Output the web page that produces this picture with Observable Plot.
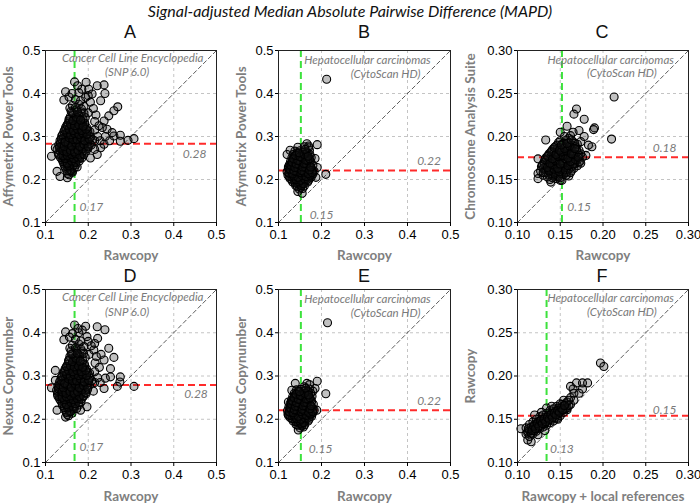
<!DOCTYPE html>
<html>
<head>
<meta charset="utf-8">
<script src="https://cdn.jsdelivr.net/npm/d3@7"></script>
<script src="https://cdn.jsdelivr.net/npm/@observablehq/plot@0.6"></script>
<style>
  body { margin: 0; background: #fff; }
  #fig { position: relative; width: 700px; height: 504px; overflow: hidden; font-family: Lato, sans-serif; }
  .ttl { position: absolute; left: 0; top: 1px; width: 700px; text-align: center; font-style: italic; font-size: 16px; color: #111; }
  .let { position: absolute; width: 60px; text-align: center; font-family: "Liberation Sans", sans-serif; font-size: 18px; color: #111; }
  .pan { position: absolute; }
</style>
</head>
<body>
<div id="fig">
  <div class="ttl">Signal-adjusted Median Absolute Pairwise Difference (MAPD)</div>
</div>
<script>
const ticksWide = [0.1, 0.2, 0.3, 0.4, 0.5];
const ticksNarrow = [0.10, 0.15, 0.20, 0.25, 0.30];

const letters = ["A", "B", "C", "D", "E", "F"];
const yLabels = ["Affymetrix Power Tools", "Affymetrix Power Tools", "Chromosome Analysis Suite",
                 "Nexus Copynumber", "Nexus Copynumber", "Rawcopy"];
const xLabels = ["Rawcopy", "Rawcopy", "Rawcopy", "Rawcopy", "Rawcopy", "Rawcopy + local references"];

// medians: [x (green), y (red)]
const medians = [[0.168, 0.283], [0.152, 0.221], [0.152, 0.176],
                 [0.168, 0.279], [0.152, 0.221], [0.134, 0.154]];
const medianText = [["0.17", "0.28"], ["0.15", "0.22"], ["0.15", "0.18"],
                    ["0.17", "0.28"], ["0.15", "0.22"], ["0.13", "0.15"]];
// label positions [greenX, greenY, redX, redY]
const medianPos = [[0.207, 0.135, 0.449, 0.259], [0.2, 0.117, 0.45, 0.242], [0.172, 0.118, 0.272, 0.186],
                   [0.207, 0.135, 0.452, 0.258], [0.198, 0.131, 0.45, 0.242], [0.152, 0.116, 0.272, 0.161]];
const studies = [["Cancer Cell Line Encyclopedia", "(SNP 6.0)"], ["Hepatocellular carcinomas", "(CytoScan HD)"],
                 ["Hepatocellular carcinomas", "(CytoScan HD)"], ["Cancer Cell Line Encyclopedia", "(SNP 6.0)"],
                 ["Hepatocellular carcinomas", "(CytoScan HD)"], ["Hepatocellular carcinomas", "(CytoScan HD)"]];
// [line1 x, line1 y, line2 x, line2 y]
const studyPos = [[0.304, 0.481, 0.291, 0.449], [0.307, 0.477, 0.349, 0.444], [0.209, 0.289, 0.222, 0.274],
                  [0.304, 0.481, 0.291, 0.448], [0.307, 0.478, 0.349, 0.444], [0.209, 0.29, 0.222, 0.274]];

const ptsA = [
  [0.168,0.427],[0.195,0.426],[0.221,0.418],[0.237,0.42],[0.239,0.4],[0.147,0.404],[0.143,0.385],[0.201,0.41],
  [0.209,0.399],[0.194,0.391],[0.229,0.383],[0.269,0.369],[0.26,0.36],[0.248,0.348],[0.237,0.336],[0.233,0.321],
  [0.244,0.317],[0.256,0.309],[0.26,0.301],[0.275,0.303],[0.275,0.289],[0.293,0.291],[0.307,0.295],[0.237,0.282],
  [0.229,0.274],[0.221,0.258],[0.205,0.25],[0.114,0.254],[0.123,0.274],[0.127,0.219],[0.134,0.207],[0.151,0.204],
  [0.162,0.219],
  [0.155,0.392],[0.162,0.4],[0.178,0.402],[0.185,0.41],[0.175,0.418],[0.2,0.395],[0.205,0.38],[0.212,0.365],
  [0.218,0.35],[0.2,0.355],[0.215,0.335],[0.225,0.325],[0.215,0.315],[0.222,0.3],[0.215,0.29],[0.228,0.29],
  [0.24,0.3],[0.25,0.29],[0.215,0.27],
  [0.152,0.214],[0.163,0.217],[0.147,0.226],[0.158,0.223],[0.168,0.228],
  [0.143,0.236],[0.152,0.233],[0.161,0.238],[0.171,0.234],
  [0.139,0.246],[0.148,0.243],[0.157,0.248],[0.166,0.244],[0.176,0.247],
  [0.137,0.256],[0.145,0.253],[0.154,0.258],[0.163,0.254],[0.172,0.257],[0.182,0.253],
  [0.134,0.266],[0.142,0.263],[0.151,0.268],[0.16,0.264],[0.169,0.267],[0.178,0.263],[0.188,0.266],
  [0.136,0.276],[0.145,0.273],[0.154,0.278],[0.163,0.274],[0.172,0.277],[0.181,0.273],[0.19,0.276],[0.199,0.272],
  [0.139,0.286],[0.148,0.283],[0.157,0.288],[0.166,0.284],[0.175,0.287],[0.184,0.283],[0.193,0.286],[0.204,0.283],
  [0.142,0.296],[0.151,0.293],[0.16,0.298],[0.169,0.294],[0.178,0.297],[0.187,0.293],[0.196,0.296],[0.21,0.293],
  [0.145,0.306],[0.154,0.303],[0.163,0.308],[0.172,0.304],[0.181,0.307],[0.19,0.303],[0.2,0.306],
  [0.148,0.316],[0.158,0.313],[0.168,0.318],[0.178,0.314],[0.188,0.317],[0.199,0.313],
  [0.151,0.326],[0.161,0.323],[0.171,0.328],[0.181,0.324],[0.192,0.327],
  [0.155,0.336],[0.165,0.333],[0.175,0.338],[0.186,0.334],
  [0.158,0.346],[0.169,0.343],[0.18,0.348],[0.193,0.344],
  [0.16,0.359],[0.172,0.362],[0.185,0.357],[0.163,0.372],[0.178,0.375],[0.19,0.37],[0.17,0.386],[0.182,0.383],
  [0.155,0.265],[0.165,0.275],[0.16,0.285],[0.17,0.29],[0.158,0.245],[0.175,0.3],[0.15,0.275],[0.165,0.255],
  [0.157,0.219],[0.152,0.229],[0.163,0.231],[0.147,0.24],[0.156,0.241],[0.166,0.239],[0.143,0.25],[0.152,0.251],
  [0.161,0.249],[0.17,0.252],[0.18,0.249],
  [0.13,0.261],[0.14,0.259],[0.149,0.262],[0.158,0.26],[0.167,0.262],[0.176,0.259],[0.185,0.261],
  [0.127,0.27],[0.138,0.271],[0.147,0.269],[0.156,0.272],[0.165,0.27],[0.174,0.271],[0.184,0.269],[0.194,0.271],
  [0.131,0.281],[0.141,0.279],[0.15,0.282],[0.159,0.28],[0.168,0.282],[0.178,0.279],[0.187,0.281],[0.197,0.279],[0.207,0.28],
  [0.134,0.291],[0.145,0.29],[0.154,0.292],[0.163,0.289],[0.172,0.291],[0.181,0.29],[0.19,0.291],[0.2,0.289],
  [0.138,0.301],[0.148,0.3],[0.157,0.302],[0.166,0.299],[0.176,0.301],[0.185,0.3],[0.195,0.301],[0.205,0.299],
  [0.143,0.311],[0.152,0.31],[0.162,0.312],[0.173,0.309],[0.183,0.311],[0.193,0.31],[0.204,0.311],
  [0.147,0.321],[0.156,0.32],[0.166,0.322],[0.176,0.319],[0.186,0.321],[0.197,0.32],
  [0.153,0.331],[0.163,0.33],[0.173,0.332],[0.181,0.33],[0.192,0.331],
  [0.157,0.341],[0.167,0.34],[0.177,0.342],[0.188,0.339],
  [0.165,0.353],[0.177,0.352],[0.19,0.354],[0.157,0.366],[0.17,0.367],[0.184,0.364]
];
const coreA = [
  [0.155,0.211],[0.16,0.221],[0.15,0.22],[0.145,0.231],[0.155,0.232],[0.166,0.233],[0.174,0.229],
  [0.141,0.241],[0.151,0.238],[0.161,0.243],[0.171,0.24],[0.179,0.243],
  [0.135,0.251],[0.146,0.249],[0.156,0.252],[0.166,0.249],[0.175,0.252],[0.185,0.25],
  [0.131,0.257],[0.141,0.255],[0.151,0.256],[0.161,0.258],[0.17,0.26],[0.18,0.257],[0.19,0.258],
  [0.132,0.275],[0.141,0.267],[0.15,0.264],[0.158,0.268],[0.168,0.264],[0.176,0.268],[0.186,0.272],[0.195,0.266],
  [0.135,0.284],[0.144,0.277],[0.153,0.284],[0.161,0.278],[0.171,0.285],[0.18,0.277],[0.19,0.282],[0.2,0.276],
  [0.137,0.294],[0.146,0.287],[0.155,0.297],[0.164,0.293],[0.174,0.293],[0.183,0.297],[0.192,0.29],[0.202,0.294],
  [0.14,0.304],[0.15,0.308],[0.159,0.304],[0.168,0.307],[0.178,0.305],[0.187,0.308],[0.197,0.305],
  [0.145,0.315],[0.155,0.317],[0.165,0.314],[0.175,0.317],[0.185,0.314],[0.195,0.317],
  [0.15,0.326],[0.159,0.328],[0.168,0.325],[0.178,0.327],[0.188,0.324],
  [0.155,0.34],[0.164,0.337],[0.172,0.345],[0.182,0.338],[0.162,0.355],[0.175,0.357]
];

const ptsB = [
  [0.212,0.433],[0.21,0.212],[0.19,0.281],[0.166,0.283],[0.187,0.205],[0.19,0.228],[0.185,0.249],[0.123,0.229],
  [0.127,0.268],[0.12,0.258],[0.17,0.278],[0.145,0.172],[0.155,0.168],
  [0.148,0.178],[0.156,0.179],
  [0.14,0.186],[0.15,0.187],[0.16,0.185],
  [0.133,0.194],[0.142,0.195],[0.151,0.193],[0.16,0.196],[0.168,0.194],
  [0.127,0.202],[0.136,0.203],[0.145,0.201],[0.154,0.204],[0.163,0.202],[0.172,0.203],
  [0.122,0.21],[0.131,0.211],[0.14,0.209],[0.149,0.212],[0.158,0.21],[0.167,0.211],[0.176,0.209],
  [0.12,0.218],[0.129,0.219],[0.138,0.217],[0.147,0.22],[0.156,0.218],[0.165,0.219],[0.174,0.217],[0.183,0.219],
  [0.123,0.226],[0.132,0.227],[0.141,0.225],[0.15,0.228],[0.159,0.226],[0.168,0.227],[0.177,0.225],
  [0.125,0.234],[0.134,0.235],[0.143,0.233],[0.152,0.236],[0.161,0.234],[0.17,0.235],[0.18,0.233],
  [0.128,0.242],[0.137,0.243],[0.146,0.241],[0.155,0.244],[0.164,0.242],[0.173,0.243],
  [0.131,0.25],[0.14,0.251],[0.149,0.249],[0.158,0.252],[0.167,0.25],[0.176,0.251],
  [0.134,0.258],[0.144,0.259],[0.154,0.257],[0.164,0.26],[0.173,0.258],
  [0.138,0.266],[0.15,0.267],[0.162,0.265],[0.172,0.268],[0.145,0.275],[0.16,0.276],[0.17,0.274],
  [0.152,0.182],[0.145,0.19],[0.155,0.191],[0.137,0.198],[0.147,0.199],[0.156,0.2],[0.165,0.199],
  [0.131,0.206],[0.14,0.207],[0.15,0.206],[0.159,0.207],[0.168,0.206],[0.176,0.205],
  [0.126,0.214],[0.135,0.215],[0.144,0.214],[0.153,0.215],[0.162,0.214],[0.171,0.215],[0.18,0.213],
  [0.125,0.222],[0.134,0.223],[0.143,0.222],[0.152,0.223],[0.161,0.222],[0.17,0.223],[0.179,0.221],
  [0.128,0.23],[0.137,0.231],[0.146,0.23],[0.155,0.231],[0.164,0.23],[0.173,0.231],
  [0.13,0.238],[0.139,0.239],[0.148,0.238],[0.157,0.239],[0.166,0.238],[0.176,0.239],
  [0.133,0.246],[0.142,0.247],[0.151,0.246],[0.16,0.247],[0.169,0.246],
  [0.137,0.254],[0.147,0.255],[0.156,0.254],[0.165,0.255],[0.143,0.262],[0.157,0.263],[0.167,0.262]
];
const coreB = [
  [0.144,0.183],[0.153,0.186],[0.139,0.192],[0.148,0.194],[0.158,0.19],[0.131,0.199],[0.141,0.2],[0.151,0.198],
  [0.161,0.201],[0.17,0.198],
  [0.125,0.207],[0.135,0.208],[0.145,0.205],[0.155,0.209],[0.164,0.207],[0.173,0.21],
  [0.124,0.215],[0.133,0.213],[0.142,0.218],[0.151,0.216],[0.16,0.217],[0.169,0.214],[0.178,0.216],
  [0.127,0.224],[0.136,0.22],[0.145,0.227],[0.154,0.221],[0.163,0.228],[0.172,0.222],
  [0.129,0.233],[0.138,0.228],[0.147,0.235],[0.156,0.229],[0.165,0.236],[0.175,0.229],
  [0.132,0.24],[0.141,0.236],[0.15,0.243],[0.159,0.237],[0.168,0.244],
  [0.135,0.248],[0.145,0.244],[0.154,0.251],[0.163,0.245],[0.172,0.248],
  [0.14,0.256],[0.15,0.253],[0.16,0.258],[0.169,0.254],[0.148,0.262],[0.162,0.27]
];

const ptsC = [
  [0.213,0.246],[0.21,0.197],[0.169,0.232],[0.166,0.226],[0.178,0.22],[0.19,0.21],[0.189,0.208],[0.158,0.212],
  [0.15,0.205],[0.172,0.207],[0.174,0.194],[0.183,0.19],[0.187,0.188],[0.18,0.178],[0.172,0.17],[0.124,0.174],
  [0.124,0.157],[0.124,0.151],[0.139,0.147],[0.15,0.149],[0.133,0.196],[0.165,0.205],[0.178,0.2],[0.16,0.198],
  [0.138,0.15],[0.145,0.151],[0.152,0.149],
  [0.13,0.155],[0.136,0.156],[0.142,0.154],[0.148,0.155],[0.154,0.156],[0.16,0.154],
  [0.127,0.16],[0.133,0.161],[0.139,0.159],[0.145,0.16],[0.151,0.161],[0.157,0.159],[0.163,0.16],
  [0.128,0.165],[0.134,0.166],[0.14,0.164],[0.146,0.165],[0.152,0.166],[0.158,0.164],[0.164,0.165],[0.17,0.166],
  [0.131,0.17],[0.137,0.171],[0.143,0.169],[0.149,0.17],[0.155,0.171],[0.161,0.169],[0.167,0.17],[0.173,0.171],
  [0.133,0.175],[0.139,0.176],[0.145,0.174],[0.151,0.175],[0.157,0.176],[0.163,0.174],[0.169,0.175],[0.176,0.176],
  [0.137,0.18],[0.143,0.181],[0.149,0.179],[0.155,0.18],[0.161,0.181],[0.167,0.179],[0.174,0.18],
  [0.141,0.185],[0.147,0.186],[0.153,0.184],[0.159,0.185],[0.165,0.186],[0.172,0.184],
  [0.146,0.19],[0.152,0.191],[0.158,0.189],[0.164,0.19],[0.17,0.191],
  [0.15,0.195],[0.157,0.196],[0.165,0.194],[0.155,0.2],[0.162,0.201],
  [0.141,0.152],[0.148,0.153],[0.133,0.158],[0.139,0.157],[0.145,0.158],[0.151,0.157],[0.157,0.158],
  [0.13,0.163],[0.136,0.162],[0.142,0.163],[0.148,0.162],[0.154,0.163],[0.16,0.162],[0.166,0.163],
  [0.131,0.168],[0.137,0.167],[0.143,0.168],[0.149,0.167],[0.155,0.168],[0.161,0.167],[0.167,0.168],
  [0.134,0.173],[0.14,0.172],[0.146,0.173],[0.152,0.172],[0.158,0.173],[0.164,0.172],[0.17,0.173],
  [0.136,0.178],[0.142,0.177],[0.148,0.178],[0.154,0.177],[0.16,0.178],[0.166,0.177],[0.172,0.178],
  [0.14,0.183],[0.146,0.182],[0.152,0.183],[0.158,0.182],[0.164,0.183],[0.17,0.182],
  [0.144,0.188],[0.15,0.187],[0.156,0.188],[0.162,0.187],[0.168,0.188],
  [0.148,0.193],[0.154,0.192],[0.16,0.193],[0.167,0.192]
];
const coreC = [
  [0.135,0.153],[0.144,0.156],[0.15,0.152],[0.157,0.155],[0.13,0.158],[0.137,0.16],[0.143,0.162],[0.149,0.159],
  [0.156,0.161],[0.162,0.158],
  [0.129,0.167],[0.135,0.164],[0.141,0.167],[0.147,0.163],[0.153,0.169],[0.159,0.166],[0.165,0.168],
  [0.132,0.173],[0.138,0.169],[0.144,0.172],[0.15,0.168],[0.156,0.174],[0.162,0.171],[0.168,0.173],[0.174,0.169],
  [0.135,0.177],[0.141,0.174],[0.147,0.177],[0.153,0.178],[0.159,0.175],[0.165,0.179],[0.171,0.176],
  [0.139,0.182],[0.145,0.179],[0.151,0.182],[0.157,0.183],[0.163,0.18],[0.169,0.185],
  [0.143,0.187],[0.149,0.184],[0.155,0.186],[0.161,0.189],[0.167,0.186],[0.151,0.19],[0.158,0.192],[0.163,0.196]
];

const ptsD = [
  [0.168,0.418],[0.147,0.402],[0.143,0.384],[0.194,0.415],[0.221,0.414],[0.239,0.407],[0.222,0.387],[0.197,0.391],
  [0.248,0.364],[0.26,0.343],[0.237,0.337],[0.252,0.317],[0.252,0.298],[0.275,0.298],[0.274,0.286],[0.307,0.276],
  [0.268,0.276],[0.237,0.271],[0.197,0.229],[0.114,0.273],[0.123,0.29],[0.123,0.313],[0.127,0.221],[0.147,0.205],
  [0.182,0.221],[0.215,0.375],[0.23,0.35],
  [0.156,0.39],[0.163,0.398],[0.178,0.4],[0.186,0.406],[0.176,0.41],[0.2,0.38],[0.207,0.37],[0.213,0.36],
  [0.219,0.345],[0.202,0.35],[0.216,0.33],[0.226,0.32],[0.215,0.31],[0.222,0.296],[0.215,0.285],[0.228,0.285],
  [0.24,0.295],[0.212,0.265],
  [0.151,0.211],[0.162,0.214],[0.145,0.222],[0.156,0.219],[0.167,0.224],
  [0.14,0.232],[0.15,0.229],[0.159,0.234],[0.169,0.23],[0.178,0.233],
  [0.136,0.242],[0.145,0.239],[0.154,0.244],[0.163,0.24],[0.173,0.243],[0.183,0.24],
  [0.133,0.252],[0.141,0.249],[0.15,0.254],[0.159,0.25],[0.168,0.253],[0.178,0.249],[0.188,0.252],
  [0.131,0.262],[0.139,0.259],[0.148,0.264],[0.157,0.26],[0.166,0.263],[0.175,0.259],[0.185,0.262],[0.195,0.259],
  [0.134,0.272],[0.143,0.269],[0.152,0.274],[0.161,0.27],[0.17,0.273],[0.179,0.269],[0.188,0.272],[0.198,0.268],
  [0.137,0.282],[0.146,0.279],[0.155,0.284],[0.164,0.28],[0.173,0.283],[0.182,0.279],[0.191,0.282],[0.203,0.279],
  [0.14,0.292],[0.149,0.289],[0.158,0.294],[0.167,0.29],[0.176,0.293],[0.185,0.289],[0.195,0.292],[0.208,0.289],
  [0.144,0.302],[0.153,0.299],[0.162,0.304],[0.171,0.3],[0.18,0.303],[0.19,0.299],[0.201,0.302],
  [0.147,0.312],[0.157,0.309],[0.167,0.314],[0.177,0.31],[0.187,0.313],[0.198,0.309],
  [0.15,0.322],[0.16,0.319],[0.17,0.324],[0.18,0.32],[0.192,0.323],
  [0.154,0.333],[0.164,0.33],[0.174,0.335],[0.186,0.331],
  [0.157,0.345],[0.168,0.342],[0.18,0.347],[0.193,0.343],
  [0.16,0.358],[0.172,0.361],[0.186,0.356],[0.163,0.371],[0.178,0.374],[0.19,0.368],[0.17,0.385],[0.183,0.381],
  [0.154,0.262],[0.164,0.272],[0.159,0.282],[0.169,0.287],[0.157,0.242],[0.174,0.297],[0.149,0.272],[0.164,0.252],
  [0.156,0.216],[0.151,0.226],[0.162,0.228],[0.145,0.237],[0.155,0.238],[0.165,0.236],[0.141,0.247],[0.15,0.248],
  [0.16,0.246],[0.169,0.249],[0.179,0.246],
  [0.128,0.258],[0.137,0.256],[0.146,0.259],[0.155,0.257],[0.164,0.259],[0.174,0.256],[0.183,0.258],
  [0.126,0.267],[0.136,0.268],[0.145,0.266],[0.154,0.269],[0.164,0.267],[0.173,0.268],[0.183,0.266],[0.193,0.268],
  [0.129,0.277],[0.139,0.275],[0.149,0.278],[0.158,0.276],[0.167,0.278],[0.177,0.275],[0.186,0.277],[0.196,0.275],
  [0.133,0.287],[0.143,0.286],[0.152,0.288],[0.162,0.285],[0.171,0.287],[0.18,0.286],[0.19,0.287],[0.2,0.285],
  [0.137,0.297],[0.147,0.296],[0.156,0.298],[0.165,0.295],[0.175,0.297],[0.184,0.296],[0.194,0.297],[0.204,0.295],
  [0.142,0.307],[0.151,0.306],[0.161,0.308],[0.172,0.305],[0.182,0.307],[0.192,0.306],[0.203,0.307],
  [0.146,0.317],[0.155,0.316],[0.165,0.318],[0.175,0.315],[0.185,0.317],[0.196,0.316],
  [0.152,0.327],[0.162,0.326],[0.172,0.328],[0.18,0.326],[0.191,0.327],
  [0.156,0.338],[0.166,0.337],[0.176,0.339],[0.187,0.336],
  [0.164,0.351],[0.176,0.35],[0.189,0.352],[0.157,0.364],[0.17,0.365],[0.183,0.362]
];
const coreD = [
  [0.154,0.208],[0.159,0.218],[0.149,0.216],[0.144,0.227],[0.154,0.228],[0.165,0.229],[0.173,0.225],
  [0.139,0.237],[0.149,0.234],[0.16,0.239],[0.17,0.236],[0.178,0.239],
  [0.133,0.247],[0.144,0.245],[0.155,0.248],[0.165,0.245],[0.174,0.248],[0.184,0.246],
  [0.129,0.253],[0.139,0.251],[0.149,0.252],[0.159,0.254],[0.169,0.256],[0.179,0.253],[0.189,0.254],
  [0.13,0.271],[0.139,0.263],[0.148,0.26],[0.157,0.264],[0.167,0.26],[0.175,0.264],[0.185,0.268],[0.194,0.262],
  [0.133,0.28],[0.142,0.273],[0.151,0.28],[0.16,0.274],[0.17,0.281],[0.179,0.273],[0.189,0.278],[0.199,0.272],
  [0.136,0.29],[0.145,0.283],[0.154,0.293],[0.163,0.289],[0.173,0.289],[0.182,0.293],[0.191,0.286],[0.201,0.29],
  [0.139,0.3],[0.149,0.304],[0.158,0.3],[0.167,0.303],[0.177,0.301],[0.186,0.304],[0.196,0.301],
  [0.144,0.311],[0.154,0.313],[0.164,0.31],[0.174,0.313],[0.184,0.31],[0.194,0.313],
  [0.149,0.322],[0.158,0.324],[0.167,0.321],[0.177,0.323],[0.187,0.32],
  [0.154,0.336],[0.163,0.333],[0.171,0.341],[0.181,0.334],[0.161,0.351],[0.174,0.353]
];

const ptsE = [
  [0.214,0.423],[0.21,0.259],[0.19,0.288],[0.185,0.271],[0.166,0.283],[0.139,0.283],[0.131,0.267],[0.123,0.24],
  [0.123,0.209],[0.146,0.175],[0.189,0.221],[0.172,0.28],[0.18,0.265],[0.16,0.275],
  [0.15,0.18],[0.158,0.182],
  [0.141,0.188],[0.151,0.189],[0.161,0.187],
  [0.134,0.196],[0.143,0.197],[0.152,0.195],[0.161,0.198],[0.169,0.196],
  [0.127,0.204],[0.136,0.205],[0.145,0.203],[0.154,0.206],[0.163,0.204],[0.172,0.205],
  [0.122,0.212],[0.131,0.213],[0.14,0.211],[0.149,0.214],[0.158,0.212],[0.167,0.213],[0.176,0.211],
  [0.121,0.22],[0.13,0.221],[0.139,0.219],[0.148,0.222],[0.157,0.22],[0.166,0.221],[0.175,0.219],[0.183,0.221],
  [0.124,0.228],[0.133,0.229],[0.142,0.227],[0.151,0.23],[0.16,0.228],[0.169,0.229],[0.178,0.227],
  [0.127,0.236],[0.136,0.237],[0.145,0.235],[0.154,0.238],[0.163,0.236],[0.172,0.237],[0.181,0.235],
  [0.13,0.244],[0.139,0.245],[0.148,0.243],[0.157,0.246],[0.166,0.244],[0.175,0.245],
  [0.133,0.252],[0.142,0.253],[0.151,0.251],[0.16,0.254],[0.169,0.252],[0.178,0.253],
  [0.137,0.26],[0.147,0.261],[0.157,0.259],[0.167,0.262],[0.175,0.26],
  [0.142,0.268],[0.152,0.269],[0.164,0.267],[0.172,0.27],
  [0.154,0.185],[0.146,0.192],[0.156,0.193],[0.138,0.2],[0.148,0.201],[0.157,0.2],[0.166,0.201],
  [0.131,0.208],[0.14,0.209],[0.15,0.208],[0.159,0.209],[0.168,0.208],[0.177,0.207],
  [0.126,0.216],[0.135,0.217],[0.144,0.216],[0.153,0.217],[0.162,0.216],[0.171,0.217],[0.18,0.215],
  [0.126,0.224],[0.135,0.225],[0.144,0.224],[0.153,0.225],[0.162,0.224],[0.171,0.225],[0.18,0.223],
  [0.129,0.232],[0.138,0.233],[0.147,0.232],[0.156,0.233],[0.165,0.232],[0.174,0.233],
  [0.131,0.24],[0.14,0.241],[0.149,0.24],[0.158,0.241],[0.167,0.24],[0.177,0.241],
  [0.135,0.248],[0.144,0.249],[0.153,0.248],[0.162,0.249],[0.171,0.248],
  [0.139,0.256],[0.149,0.257],[0.158,0.256],[0.167,0.257],[0.145,0.264],[0.159,0.265],[0.169,0.264]
];
const coreE = [
  [0.145,0.186],[0.154,0.189],[0.14,0.194],[0.149,0.196],[0.159,0.192],[0.132,0.201],[0.142,0.202],[0.152,0.2],
  [0.162,0.203],[0.171,0.2],
  [0.126,0.209],[0.136,0.21],[0.146,0.207],[0.156,0.211],[0.165,0.209],[0.174,0.212],
  [0.125,0.217],[0.134,0.215],[0.143,0.22],[0.152,0.218],[0.161,0.219],[0.17,0.216],[0.179,0.218],
  [0.128,0.226],[0.137,0.222],[0.146,0.229],[0.155,0.223],[0.164,0.23],[0.173,0.224],
  [0.13,0.235],[0.139,0.23],[0.148,0.237],[0.157,0.231],[0.166,0.238],[0.176,0.231],
  [0.133,0.242],[0.142,0.238],[0.151,0.245],[0.16,0.239],[0.169,0.246],
  [0.136,0.25],[0.146,0.246],[0.155,0.253],[0.164,0.247],[0.173,0.25],
  [0.141,0.258],[0.151,0.255],[0.161,0.26],[0.17,0.256],[0.149,0.264],[0.163,0.272]
];

const ptsF = [
  [0.197,0.215],[0.201,0.211],[0.169,0.192],[0.176,0.192],[0.182,0.192],[0.176,0.185],[0.162,0.188],[0.104,0.139],
  [0.112,0.134],[0.112,0.126],[0.116,0.124],[0.147,0.15],[0.158,0.161],[0.172,0.18],[0.165,0.185],
  [0.11,0.133],[0.11,0.14],[0.114,0.13],[0.114,0.137],[0.114,0.144],
  [0.118,0.133],[0.118,0.14],[0.118,0.147],[0.122,0.136],[0.122,0.143],[0.122,0.15],
  [0.126,0.139],[0.126,0.146],[0.126,0.153],[0.13,0.141],[0.13,0.148],[0.13,0.155],
  [0.134,0.143],[0.134,0.15],[0.134,0.157],[0.134,0.163],[0.138,0.146],[0.138,0.153],[0.138,0.16],
  [0.142,0.148],[0.142,0.155],[0.142,0.162],[0.146,0.151],[0.146,0.158],[0.146,0.165],
  [0.15,0.154],[0.15,0.161],[0.15,0.168],[0.154,0.158],[0.154,0.165],[0.154,0.172],
  [0.158,0.163],[0.158,0.17],[0.162,0.167],[0.162,0.175],[0.166,0.172],[0.166,0.18],
  [0.12,0.155],[0.128,0.158],[0.14,0.165],[0.124,0.132],[0.132,0.137],
  [0.112,0.136],[0.116,0.134],[0.116,0.141],[0.12,0.137],[0.12,0.144],[0.124,0.14],[0.124,0.147],[0.128,0.143],
  [0.128,0.15],[0.132,0.145],[0.132,0.152],[0.136,0.148],[0.136,0.155],[0.14,0.15],[0.14,0.157],[0.144,0.152],
  [0.144,0.159],[0.148,0.156],[0.148,0.163],[0.152,0.16],[0.152,0.167],[0.156,0.162],[0.156,0.168],[0.16,0.166],
  [0.16,0.172]
];
const coreF = [
  [0.113,0.139],[0.117,0.137],[0.119,0.142],[0.121,0.139],[0.123,0.145],[0.125,0.142],[0.127,0.148],[0.129,0.145],
  [0.131,0.15],[0.133,0.147],[0.135,0.152],[0.137,0.15],[0.139,0.155],[0.141,0.152],[0.143,0.157],[0.145,0.155],
  [0.147,0.16],[0.149,0.158],[0.151,0.163],[0.153,0.161],[0.155,0.166]
];

const allPts = [ptsA.concat(coreA), ptsB.concat(coreB), ptsC.concat(coreC),
                ptsD.concat(coreD), ptsE.concat(coreE), ptsF.concat(coreF)];

// panel frames on the page
const boxes = [
  {left: 0, top: 42, width: 233, height: 225, ml: 45, mr: 17, mt: 8, mb: 45, lx: 100, ly: 22},
  {left: 233, top: 42, width: 234, height: 225, ml: 45, mr: 17, mt: 8, mb: 45, lx: 334, ly: 22},
  {left: 466, top: 42, width: 234, height: 225, ml: 51, mr: 12, mt: 8, mb: 45, lx: 572, ly: 22},
  {left: 0, top: 281, width: 233, height: 223, ml: 45, mr: 17, mt: 8, mb: 42, lx: 100, ly: 266},
  {left: 233, top: 281, width: 234, height: 223, ml: 45, mr: 17, mt: 8, mb: 42, lx: 334, ly: 266},
  {left: 466, top: 281, width: 234, height: 223, ml: 51, mr: 12, mt: 8, mb: 42, lx: 572, ly: 266}
];

const fig = document.getElementById("fig");
const note = {fill: "#7a7a7a", fontStyle: "italic", fontFamily: "Lato, sans-serif", fontSize: 11.5};
const axisLab = {fill: "#7f7f7f", fontWeight: "bold", fontSize: 13.5, fontFamily: "Lato, sans-serif",
                 textAnchor: "middle", lineAnchor: "middle"};

allPts.forEach((pts, i) => {
  const b = boxes[i];
  const narrow = i === 2 || i === 5;
  const ticks = narrow ? ticksNarrow : ticksWide;
  const fmt = narrow ? d3.format(".2f") : d3.format(".1f");
  const dom = [ticks[0], ticks[ticks.length - 1]];
  const inner = ticks.slice(1, -1);
  const [mx, my] = medians[i];
  const mp = medianPos[i];
  const sp = studyPos[i];

  const plot = Plot.plot({
    width: b.width,
    height: b.height,
    marginLeft: b.ml, marginRight: b.mr, marginTop: b.mt, marginBottom: b.mb,
    style: {fontFamily: "'Liberation Sans', Arial, sans-serif", fontSize: "13px", color: "#000",
            background: "transparent", overflow: "visible"},
    x: {domain: dom},
    y: {domain: dom},
    marks: [
      Plot.gridX(inner, {stroke: "#c4c4c4", strokeOpacity: 1, strokeDasharray: "3,3"}),
      Plot.gridY(inner, {stroke: "#c4c4c4", strokeOpacity: 1, strokeDasharray: "3,3"}),
      Plot.line(dom.map(v => [v, v]), {stroke: "#333", strokeWidth: 0.8, strokeDasharray: "4,3"}),
      Plot.ruleY([my], {stroke: "#ff2b2b", strokeWidth: 2, strokeDasharray: "7,4"}),
      Plot.ruleX([mx], {stroke: "#3de23d", strokeWidth: 2, strokeDasharray: "7,4"}),
      Plot.dot(pts, {x: d => d[0], y: d => d[1], r: 4, fill: "#1a1a1a", fillOpacity: 0.27,
                     stroke: "#000", strokeWidth: 1.1}),
      Plot.text([medianText[i][0]], {x: mp[0], y: mp[1], text: d => d, ...note, fontSize: 12}),
      Plot.text([medianText[i][1]], {x: mp[2], y: mp[3], text: d => d, ...note, fontSize: 12}),
      Plot.text([studies[i][0]], {x: sp[0], y: sp[1], text: d => d, ...note}),
      Plot.text([studies[i][1]], {x: sp[2], y: sp[3], text: d => d, ...note}),
      Plot.frame({stroke: "#222", strokeWidth: 1}),
      Plot.axisX(ticks, {tickFormat: fmt, tickSize: 4, tickPadding: 3, label: null, fontSize: 13}),
      Plot.axisY(ticks, {tickFormat: fmt, tickSize: 3, tickPadding: 2, label: null, fontSize: 13}),
      Plot.text([xLabels[i]], {frameAnchor: "bottom", dy: i < 3 ? 33 : 34, text: d => d, ...axisLab}),
      Plot.text([yLabels[i]], {frameAnchor: "left", dx: narrow ? -47 : -37, rotate: -90, text: d => d, ...axisLab})
    ]
  });

  const wrap = document.createElement("div");
  wrap.className = "pan";
  wrap.style.left = b.left + "px";
  wrap.style.top = b.top + "px";
  wrap.appendChild(plot);
  fig.appendChild(wrap);

  const let_ = document.createElement("div");
  let_.className = "let";
  let_.style.left = b.lx + "px";
  let_.style.top = b.ly + "px";
  let_.textContent = letters[i];
  fig.appendChild(let_);
});
</script>
</body>
</html>
